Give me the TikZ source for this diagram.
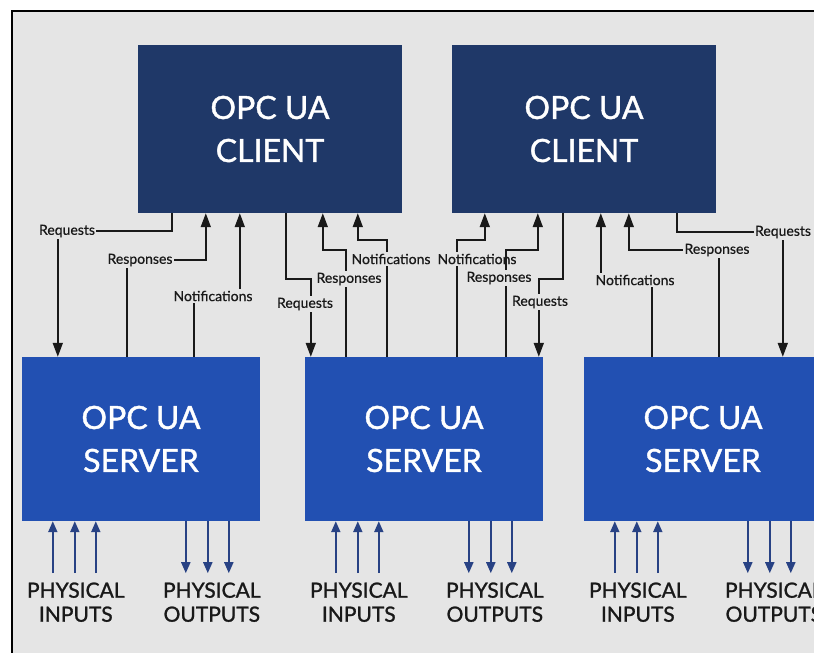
\documentclass[tikz,border=0pt]{standalone}
\usepackage{fontspec}
\setmainfont{Lato}
\newfontfamily\heavylato{Lato}[FakeBold=1.2]
\newfontfamily\midlato{Lato}[FakeBold=0.6]
\usetikzlibrary{arrows.meta}
\definecolor{panel}{RGB}{229,229,229}
\definecolor{clientblue}{RGB}{31,56,104}
\definecolor{serverblue}{RGB}{34,80,178}
\definecolor{ioblue}{RGB}{40,66,132}
\definecolor{ink}{RGB}{25,25,25}
\tikzset{
  client/.style={fill=clientblue, text=white, minimum width=264pt, minimum height=168pt,
    inner sep=0pt, align=center, font=\heavylato\fontsize{32}{43}\selectfont},
  server/.style={fill=serverblue, text=white, minimum width=238pt, minimum height=164pt,
    inner sep=0pt, align=center, font=\heavylato\fontsize{32}{43}\selectfont},
  conn/.style={draw=ink, line width=1.7pt, -{Triangle[length=14pt,width=10pt]}},
  lab/.style={fill=panel, text=ink, inner sep=1.5pt, font=\midlato\fontsize{14}{16}\selectfont},
  phys/.style={draw=ioblue, line width=2pt, -{Triangle[length=11pt,width=9pt]}},
  physlab/.style={text=ink, align=center, inner sep=0pt, font=\heavylato\fontsize{21}{24}\selectfont}
}
\begin{document}
\begin{tikzpicture}[x=1pt,y=-1pt]
  % page, grey panel and its frame
  \useasboundingbox (0,0) rectangle (814,653);
  \clip (0,0) rectangle (814,653);
  \fill[white] (0,0) rectangle (814,653);
  \fill[panel] (12,11) rectangle (814,653);
  \draw[line width=2pt] (12,653) -- (12,11) -- (814,11);

  % clients and servers
  \node[client] (c1) at (270,129) {OPC UA\\CLIENT};
  \node[client] (c2) at (584,129) {OPC UA\\CLIENT};
  \node[server] (s1) at (141,439) {OPC UA\\SERVER};
  \node[server] (s2) at (424,439) {OPC UA\\SERVER};
  \node[server] (s3) at (703,439) {OPC UA\\SERVER};

  % client 1 <-> server 1
  \draw[conn] ([xshift=34pt]c1.south west) -- ++(0,18) -| ([xshift=36pt]s1.north west);
  \node[lab] (l1) at (67,231) {Requests};
  \draw[conn] ([xshift=105pt]s1.north west) -- ++(0,-97) -| ([xshift=68pt]c1.south west);
  \node[lab] (l2) at (140,260) {Responses};
  \draw[conn] ([xshift=172pt]s1.north west) -- ++(0,-61) -| ([xshift=102pt]c1.south west);
  \node[lab] (l3) at (213,296) {Notifications};

  % client 1 <-> server 2
  \draw[conn] ([xshift=148pt]c1.south west) -- ++(0,66) -| ([xshift=6pt]s2.north west);
  \node[lab] (l4) at (305,304) {Requests};
  \draw[conn] ([xshift=41pt]s2.north west) -- ++(0,-107) -| ([xshift=185pt]c1.south west);
  \node[lab] (l5) at (349,279) {Responses};
  \draw[conn] ([xshift=82pt]s2.north west) -- ++(0,-117) -| ([xshift=220pt]c1.south west);
  \node[lab] (l6) at (391,259) {Notifications};

  % client 2 <-> server 2
  \draw[conn] ([xshift=152pt]s2.north west) -- ++(0,-117) -| ([xshift=33pt]c2.south west);
  \node[lab] (l7) at (477,259) {Notifications};
  \draw[conn] ([xshift=201pt]s2.north west) -- ++(0,-107) -| ([xshift=86pt]c2.south west);
  \node[lab] (l8) at (499,278) {Responses};
  \draw[conn] ([xshift=111pt]c2.south west) -- ++(0,66) -| ([xshift=234pt]s2.north west);
  \node[lab] (l9) at (540,302) {Requests};

  % client 2 <-> server 3
  \draw[conn] ([xshift=68pt]s3.north west) -- ++(0,-77) -| ([xshift=149pt]c2.south west);
  \node[lab] (l10) at (635,280) {Notifications};
  \draw[conn] ([xshift=135pt]s3.north west) -- ++(0,-107) -| ([xshift=177pt]c2.south west);
  \node[lab] (l11) at (717,250) {Responses};
  \draw[conn] ([xshift=225pt]c2.south west) -- ++(0,19) -| ([xshift=199pt]s3.north west);
  \node[lab] (l12) at (783,232) {Requests};

  % physical inputs and outputs of each server
  \foreach \s in {s1,s2,s3} {
    \node[physlab] (\s-in) at ([xshift=54pt,yshift=-81pt]\s.south west) {PHYSICAL\\INPUTS};
    \node[physlab] (\s-out) at ([xshift=190pt,yshift=-81pt]\s.south west) {PHYSICAL\\OUTPUTS};
    \foreach \dx in {31,53,74}
      \draw[phys] ([xshift=\dx pt,yshift=-52pt]\s.south west) -- ([xshift=\dx pt]\s.south west);
    \foreach \dx in {164,186,207}
      \draw[phys] ([xshift=\dx pt]\s.south west) -- ([xshift=\dx pt,yshift=-52pt]\s.south west);
  }
\end{tikzpicture}
\end{document}
